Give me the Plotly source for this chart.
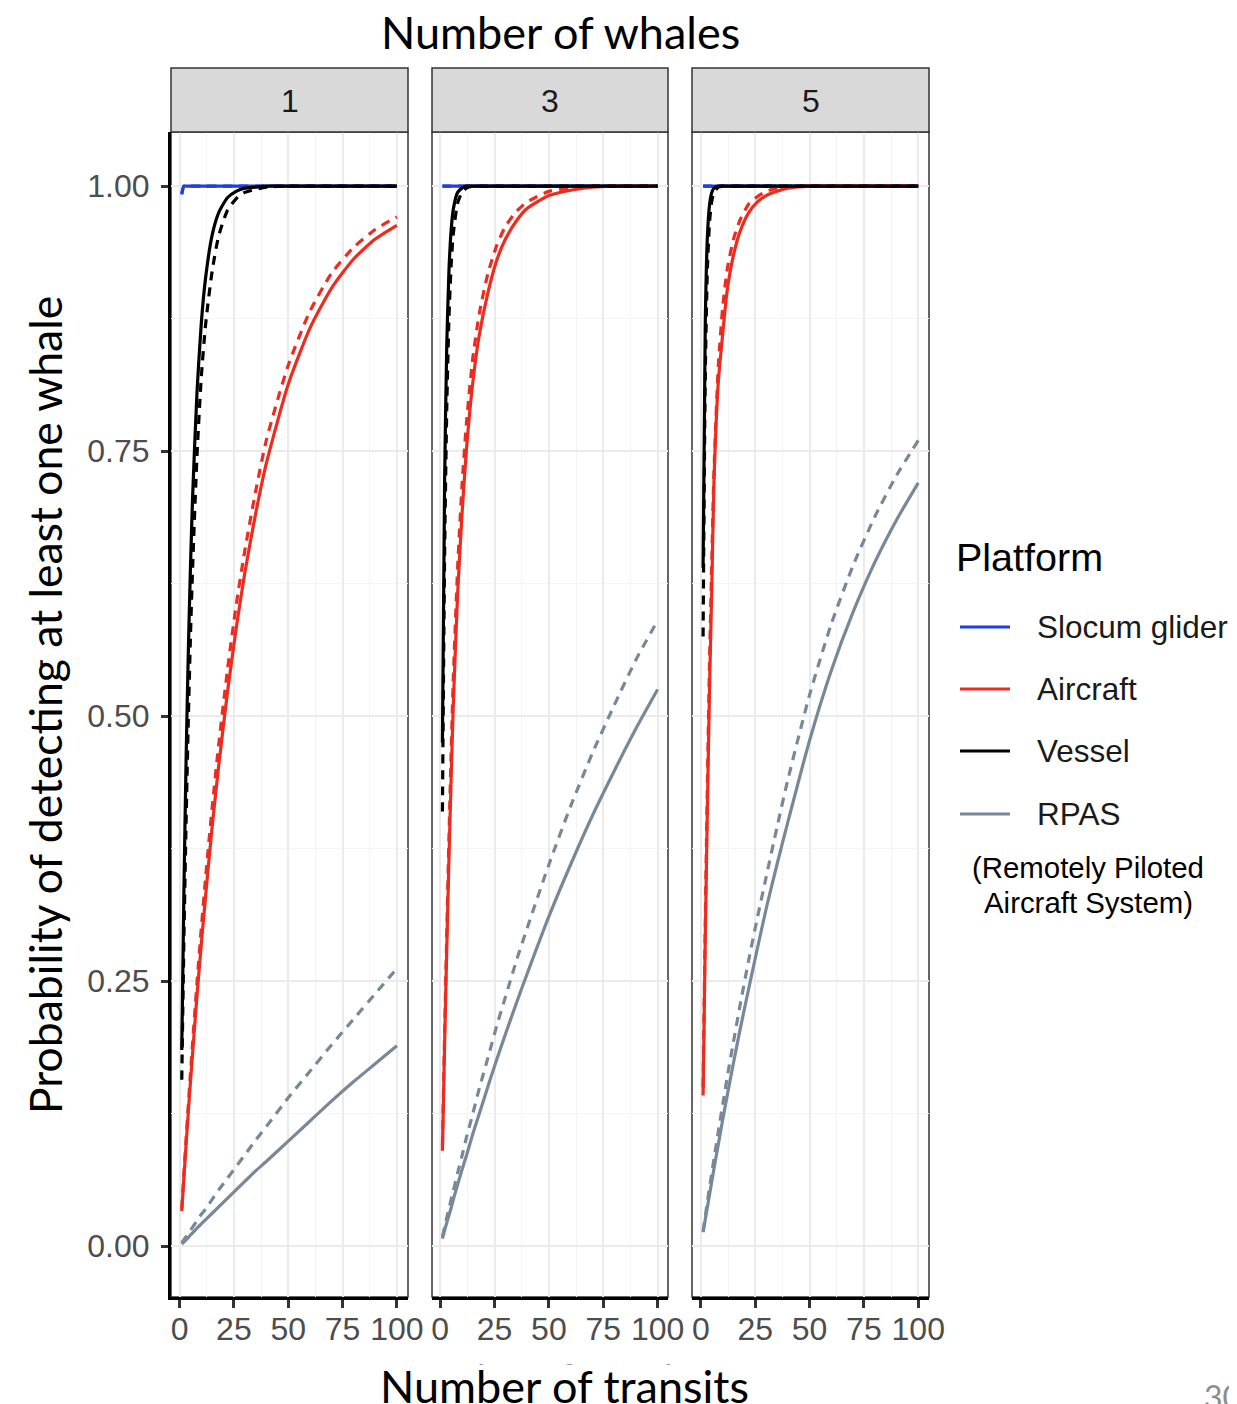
import plotly.graph_objects as go
from plotly.subplots import make_subplots

# ---------------- data ----------------
transits = [1, 2, 3, 4, 5, 6, 8, 10, 12, 15, 18, 22, 26, 30, 35, 40, 50, 60, 70, 80, 90, 100]
whale_panels = ["1", "3", "5"]
platforms = ["Slocum glider", "Aircraft", "Vessel", "RPAS"]

# 1 whale
glider_w1_solid  = [0.993, 1, 1, 1, 1, 1, 1, 1, 1, 1, 1, 1, 1, 1, 1, 1, 1, 1, 1, 1, 1, 1]
glider_w1_dashed = [0.992, 1, 1, 1, 1, 1, 1, 1, 1, 1, 1, 1, 1, 1, 1, 1, 1, 1, 1, 1, 1, 1]
aircraft_w1_solid  = [0.033, 0.065, 0.096, 0.126, 0.155, 0.182, 0.236, 0.285, 0.331, 0.396, 0.453, 0.522, 0.582, 0.635, 0.691, 0.739, 0.813, 0.866, 0.904, 0.931, 0.950, 0.963]
aircraft_w1_dashed = [0.035, 0.069, 0.101, 0.133, 0.163, 0.192, 0.248, 0.30, 0.348, 0.414, 0.473, 0.543, 0.604, 0.656, 0.712, 0.761, 0.831, 0.882, 0.918, 0.942, 0.959, 0.971]
vessel_w1_solid  = [0.185, 0.336, 0.459, 0.559, 0.64, 0.707, 0.805, 0.871, 0.914, 0.954, 0.975, 0.989, 0.995, 0.998, 0.999, 1, 1, 1, 1, 1, 1, 1]
vessel_w1_dashed = [0.157, 0.29, 0.40, 0.495, 0.575, 0.64, 0.745, 0.82, 0.87, 0.92, 0.953, 0.977, 0.988, 0.994, 0.997, 0.999, 1, 1, 1, 1, 1, 1]
rpas_w1_solid  = [0.002, 0.004, 0.006, 0.008, 0.0105, 0.0125, 0.017, 0.021, 0.025, 0.031, 0.037, 0.045, 0.053, 0.061, 0.071, 0.08, 0.099, 0.118, 0.137, 0.155, 0.172, 0.189]
rpas_w1_dashed = [0.003, 0.006, 0.009, 0.012, 0.015, 0.018, 0.024, 0.03, 0.035, 0.044, 0.053, 0.064, 0.075, 0.086, 0.10, 0.113, 0.14, 0.165, 0.19, 0.214, 0.238, 0.262]

# 3 whales
glider_w3_solid  = [1] * 22
glider_w3_dashed = [1] * 22
aircraft_w3_solid  = [0.09, 0.19, 0.28, 0.365, 0.44, 0.51, 0.615, 0.69, 0.75, 0.815, 0.86, 0.90, 0.93, 0.95, 0.967, 0.979, 0.991, 0.996, 0.999, 1, 1, 1]
aircraft_w3_dashed = [0.095, 0.20, 0.295, 0.385, 0.465, 0.535, 0.64, 0.717, 0.775, 0.838, 0.88, 0.918, 0.944, 0.962, 0.976, 0.985, 0.995, 0.998, 1, 1, 1, 1]
vessel_w3_solid  = [0.475, 0.72, 0.85, 0.92, 0.958, 0.978, 0.994, 0.998, 1, 1, 1, 1, 1, 1, 1, 1, 1, 1, 1, 1, 1, 1]
vessel_w3_dashed = [0.41, 0.65, 0.79, 0.875, 0.925, 0.955, 0.984, 0.994, 0.998, 1, 1, 1, 1, 1, 1, 1, 1, 1, 1, 1, 1, 1]
rpas_w3_solid  = [0.007, 0.015, 0.022, 0.029, 0.036, 0.044, 0.058, 0.072, 0.085, 0.106, 0.125, 0.151, 0.176, 0.20, 0.229, 0.257, 0.311, 0.36, 0.406, 0.448, 0.488, 0.525]
rpas_w3_dashed = [0.009, 0.018, 0.027, 0.035, 0.044, 0.052, 0.069, 0.085, 0.102, 0.125, 0.149, 0.178, 0.208, 0.235, 0.269, 0.30, 0.36, 0.415, 0.465, 0.51, 0.553, 0.59]

# 5 whales
glider_w5_solid  = [1] * 22
glider_w5_dashed = [1] * 22
aircraft_w5_solid  = [0.142, 0.29, 0.415, 0.53, 0.62, 0.72, 0.815, 0.86, 0.90, 0.935, 0.957, 0.975, 0.985, 0.991, 0.995, 0.998, 1, 1, 1, 1, 1, 1]
aircraft_w5_dashed = [0.15, 0.305, 0.44, 0.555, 0.645, 0.73, 0.83, 0.885, 0.92, 0.95, 0.968, 0.983, 0.99, 0.995, 0.998, 0.999, 1, 1, 1, 1, 1, 1]
vessel_w5_solid  = [0.64, 0.87, 0.953, 0.983, 0.994, 0.998, 1, 1, 1, 1, 1, 1, 1, 1, 1, 1, 1, 1, 1, 1, 1, 1]
vessel_w5_dashed = [0.575, 0.82, 0.923, 0.967, 0.986, 0.994, 0.999, 1, 1, 1, 1, 1, 1, 1, 1, 1, 1, 1, 1, 1, 1, 1]
rpas_w5_solid  = [0.013, 0.025, 0.037, 0.049, 0.061, 0.073, 0.096, 0.119, 0.141, 0.173, 0.204, 0.243, 0.281, 0.318, 0.36, 0.40, 0.477, 0.543, 0.598, 0.645, 0.685, 0.72]
rpas_w5_dashed = [0.014, 0.028, 0.042, 0.056, 0.069, 0.082, 0.108, 0.133, 0.158, 0.193, 0.227, 0.27, 0.31, 0.348, 0.395, 0.44, 0.52, 0.587, 0.642, 0.688, 0.727, 0.76]

x_ticks = [0, 25, 50, 75, 100]
y_ticks = [0.00, 0.25, 0.50, 0.75, 1.00]

# ---------------- styling ----------------
colors = {"Slocum glider": "#1f3fe0", "Aircraft": "#ee2b1f", "Vessel": "#000000", "RPAS": "#778899"}

series = {
    ("1", "Slocum glider"): (glider_w1_solid, glider_w1_dashed),
    ("1", "Aircraft"): (aircraft_w1_solid, aircraft_w1_dashed),
    ("1", "Vessel"): (vessel_w1_solid, vessel_w1_dashed),
    ("1", "RPAS"): (rpas_w1_solid, rpas_w1_dashed),
    ("3", "Slocum glider"): (glider_w3_solid, glider_w3_dashed),
    ("3", "Aircraft"): (aircraft_w3_solid, aircraft_w3_dashed),
    ("3", "Vessel"): (vessel_w3_solid, vessel_w3_dashed),
    ("3", "RPAS"): (rpas_w3_solid, rpas_w3_dashed),
    ("5", "Slocum glider"): (glider_w5_solid, glider_w5_dashed),
    ("5", "Aircraft"): (aircraft_w5_solid, aircraft_w5_dashed),
    ("5", "Vessel"): (vessel_w5_solid, vessel_w5_dashed),
    ("5", "RPAS"): (rpas_w5_solid, rpas_w5_dashed),
}

# page has an 8px body margin: the figure starts at (8, 8) in the screenshot
W, H = 1221, 1396
L, R, T, B = 163, 300, 124, 107
PW = W - L - R   # 758
PH = H - T - B   # 1165


def xp(px):  # screenshot px -> paper
    return (px - 171) / PW


def yp(py):
    return (1297 - py) / PH


fig = make_subplots(rows=1, cols=3, shared_yaxes=True, horizontal_spacing=24 / PW)

draw_order = ["Slocum glider", "Aircraft", "Vessel", "RPAS"]
for ci, w in enumerate(whale_panels):
    for p in draw_order:
        solid, dashed = series[(w, p)]
        fig.add_trace(go.Scatter(x=transits, y=dashed, mode="lines", name=p + " (dashed)",
                                 line=dict(color=colors[p], width=3.2, dash="9px,7px",
                                           shape="spline", smoothing=0.6),
                                 showlegend=False, hoverinfo="skip"),
                      row=1, col=ci + 1)
        fig.add_trace(go.Scatter(x=transits, y=solid, mode="lines", name=p,
                                 line=dict(color=colors[p], width=3.2,
                                           shape="spline", smoothing=0.6),
                                 showlegend=False, hoverinfo="skip"),
                      row=1, col=ci + 1)

tick_font = dict(family="Liberation Sans, Arial, sans-serif", size=32, color="#4D4D4D")
for ci in range(3):
    fig.update_xaxes(range=[-3.95, 104.95], tickmode="array", tickvals=x_ticks,
                     ticktext=[str(v) for v in x_ticks],
                     ticks="outside", ticklen=8, tickwidth=2.5, tickcolor="#333333",
                     showline=True, linecolor="#000000", linewidth=3,
                     showgrid=True, gridcolor="#EBEBEB", gridwidth=2,
                     minor=dict(tickmode="linear", tick0=0, dtick=12.5, showgrid=True,
                                gridcolor="#F4F4F4", gridwidth=1),
                     zeroline=False, tickfont=tick_font, ticklabelstandoff=-6,
                     row=1, col=ci + 1)
    fig.update_yaxes(range=[-0.048, 1.051], tickmode="array", tickvals=y_ticks,
                     ticktext=["%.2f" % v for v in y_ticks],
                     showgrid=True, gridcolor="#EBEBEB", gridwidth=2,
                     minor=dict(tickmode="linear", tick0=0, dtick=0.125, showgrid=True,
                                gridcolor="#F4F4F4", gridwidth=1),
                     zeroline=False, row=1, col=ci + 1)
fig.update_yaxes(ticks="outside", ticklen=7, tickwidth=2.5, tickcolor="#333333",
                 showline=True, linecolor="#000000", linewidth=3,
                 tickfont=tick_font, ticklabelstandoff=5, row=1, col=1)
fig.update_yaxes(showticklabels=False, ticks="", showline=False, row=1, col=2)
fig.update_yaxes(showticklabels=False, ticks="", showline=False, row=1, col=3)

# panel borders and facet strips
panel_px = [(171, 408), (432, 668), (692, 929)]
shapes = []
annotations = []
strip_top = yp(68)
for (x0, x1), w in zip(panel_px, whale_panels):
    shapes.append(dict(type="rect", xref="paper", yref="paper", x0=xp(x0), x1=xp(x1),
                       y0=0, y1=1, line=dict(color="#333333", width=1.5), layer="below"))
    shapes.append(dict(type="rect", xref="paper", yref="paper", x0=xp(x0), x1=xp(x1),
                       y0=1, y1=strip_top, fillcolor="#D9D9D9",
                       line=dict(color="#333333", width=1.5)))
    annotations.append(dict(text=w, xref="paper", yref="paper", x=(xp(x0) + xp(x1)) / 2,
                            y=yp(101), xanchor="center", yanchor="middle", showarrow=False,
                            font=dict(family="Liberation Sans, Arial", size=32, color="#1A1A1A")))

# legend (drawn as line samples + labels)
legend_font = "Liberation Sans, Arial"
annotations.append(dict(text="Platform", xref="paper", yref="paper", x=xp(954), y=yp(557),
                        xanchor="left", yanchor="middle", showarrow=False,
                        font=dict(family=legend_font, size=39.5, color="#000000")))
legend_rows_y = [627, 689, 751, 814]
for p, ly in zip(platforms, legend_rows_y):
    shapes.append(dict(type="line", xref="paper", yref="paper", x0=xp(960), x1=xp(1010),
                       y0=yp(ly), y1=yp(ly), line=dict(color=colors[p], width=3)))
    annotations.append(dict(text=p, xref="paper", yref="paper", x=xp(1035), y=yp(ly),
                            xanchor="left", yanchor="middle", showarrow=False,
                            font=dict(family=legend_font, size=31.5, color="#1A1A1A")))

over_font = "Lato, Carlito, sans-serif"
annotations += [
    dict(text="Number of whales", xref="paper", yref="paper", x=xp(560), y=yp(32),
         xanchor="center", yanchor="middle", showarrow=False,
         font=dict(family=over_font, size=45, color="#000000")),
    dict(text="Probability of detecting at least one whale", xref="paper", yref="paper",
         x=xp(44), y=yp(705), xanchor="center", yanchor="middle", textangle=-90,
         showarrow=False, font=dict(family=over_font, size=44.5, color="#000000")),
    # original (mostly hidden) ggplot axis title
    dict(text="Number of transits", xref="paper", yref="paper", x=xp(550), y=yp(1378),
         xanchor="center", yanchor="middle", showarrow=False,
         font=dict(family="Liberation Sans, Arial", size=37, color="#2A2A2A")),
    # white cover box
    dict(text=" ", xref="paper", yref="paper", x=xp(580), y=yp(1364), xanchor="center",
         yanchor="top", showarrow=False, width=560, height=60, bgcolor="#FFFFFF",
         borderpad=0, font=dict(size=10)),
    dict(text="Number of transits", xref="paper", yref="paper", x=xp(564), y=yp(1386),
         xanchor="center", yanchor="middle", showarrow=False,
         font=dict(family=over_font, size=45, color="#000000")),
    dict(text="(Remotely Piloted", xref="paper", yref="paper", x=xp(1088), y=yp(867),
         xanchor="center", yanchor="middle", showarrow=False,
         font=dict(family="Liberation Sans, Arial", size=29.4, color="#000000")),
    dict(text="Aircraft System)", xref="paper", yref="paper", x=xp(1088), y=yp(902),
         xanchor="center", yanchor="middle", showarrow=False,
         font=dict(family="Liberation Sans, Arial", size=29.4, color="#000000")),
    dict(text="30", xref="paper", yref="paper", x=xp(1202), y=yp(1375),
         xanchor="left", yanchor="top", showarrow=False,
         font=dict(family=over_font, size=32, color="#8C8C8C")),
]

fig.update_layout(
    width=W, height=H,
    margin=dict(l=L, r=R, t=T, b=B, autoexpand=False),
    paper_bgcolor="#FFFFFF", plot_bgcolor="#FFFFFF",
    shapes=shapes, annotations=annotations,
    showlegend=False,
)

fig.write_html("out.html")
